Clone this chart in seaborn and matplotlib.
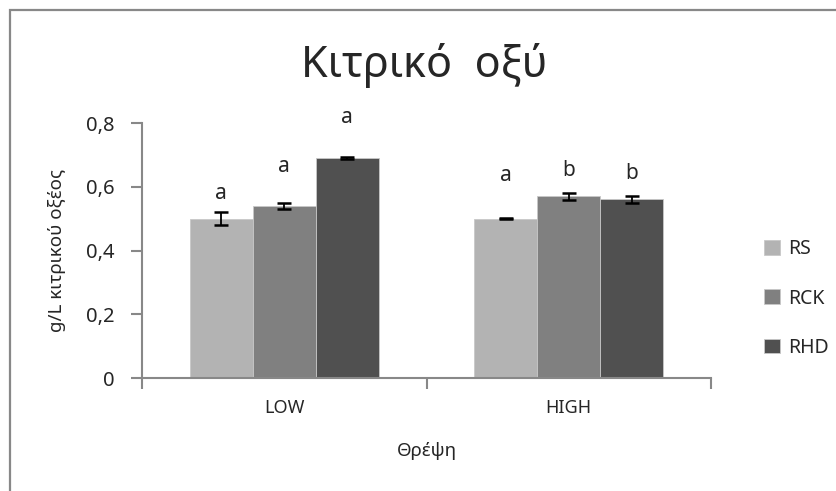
import pandas as pd
import numpy as np
import matplotlib
matplotlib.use("Agg")
import matplotlib.pyplot as plt
import seaborn as sns
from matplotlib.patches import Rectangle
from matplotlib.ticker import FuncFormatter, FixedLocator

# Data
groups = ["LOW", "HIGH"]
treatments = ["RS", "RCK", "RHD"]
rs_vals = [0.50, 0.50]
rck_vals = [0.54, 0.57]
rhd_vals = [0.69, 0.56]
rs_err = [0.02, 0.002]
rck_err = [0.01, 0.01]
rhd_err = [0.002, 0.01]
rs_letters = ["a", "a"]
rck_letters = ["a", "b"]
rhd_letters = ["a", "b"]
# label heights (data units) as placed in the original
rs_label_y = [0.580, 0.634]
rck_label_y = [0.662, 0.652]
rhd_label_y = [0.816, 0.643]

colors = ["#b3b3b3", "#808080", "#505050"]

df = pd.DataFrame({
    "Θρέψη": groups * 3,
    "treatment": [t for t in treatments for _ in groups],
    "value": rs_vals + rck_vals + rhd_vals,
})
errs = [rs_err, rck_err, rhd_err]
letters = [rs_letters, rck_letters, rhd_letters]
label_y = [rs_label_y, rck_label_y, rhd_label_y]

sns.set_style("white")
plt.rcParams["font.family"] = ["Noto Sans", "DejaVu Sans"]

fig = plt.figure(figsize=(8.36, 4.91), dpi=100)
ax = fig.add_axes([142 / 836, 1 - 378 / 491, 569 / 836, 255 / 491])

sns.barplot(data=df, x="Θρέψη", y="value", hue="treatment", hue_order=treatments,
            palette=colors, saturation=1, width=0.664, errorbar=None, ax=ax,
            edgecolor="#c8c8c8", linewidth=0.6)

for cont, e, lab, ly in zip(ax.containers, errs, letters, label_y):
    for bar, err, txt, yy in zip(cont, e, lab, ly):
        cx = bar.get_x() + bar.get_width() / 2
        ax.errorbar(cx, bar.get_height(), yerr=err, fmt="none", ecolor="black",
                    elinewidth=1.3, capsize=5, capthick=1.8, zorder=5)
        ax.text(cx, yy, txt, ha="center", va="center", fontsize=15)

ax.set_xlim(-0.5, 1.5)
ax.set_ylim(0, 0.8)
ax.set_yticks([0, 0.2, 0.4, 0.6, 0.8])
ax.yaxis.set_major_formatter(FuncFormatter(lambda v, p: "0" if v == 0 else f"{v:.1f}".replace(".", ",")))
ax.xaxis.set_minor_locator(FixedLocator([-0.5, 0.5, 1.5]))
ax.tick_params(axis="x", which="major", length=0, pad=15, labelsize=13)
ax.tick_params(axis="x", which="minor", length=8, width=1.5, color="#888888", direction="out")
ax.tick_params(axis="y", length=8, width=1.5, color="#888888", direction="out", labelsize=14.5, pad=12)
ax.tick_params(axis="x", which="minor", bottom=True)
ax.tick_params(axis="y", left=True)

for s in ["top", "right"]:
    ax.spines[s].set_visible(False)
for s in ["left", "bottom"]:
    ax.spines[s].set_color("#888888")
    ax.spines[s].set_linewidth(1.5)

ax.set_xlabel("Θρέψη", fontsize=13.5, labelpad=18)
ax.set_ylabel("g/L κιτρικού οξέος", fontsize=13.5, labelpad=14)
fig.text(424 / 836, 1 - 65 / 491, "Κιτρικό  οξύ", ha="center", va="center", fontsize=31)

handles, labs = ax.get_legend_handles_labels()
ax.legend_.remove()
fig.legend(handles, labs, loc="center left", bbox_to_anchor=(0.893, 0.392),
           frameon=False, fontsize=14, labelspacing=1.5, handlelength=0.8,
           handleheight=0.8, handletextpad=0.45)

# outer chart frame
fig.patches.append(Rectangle((10 / 836, -0.05), 1.2, 1 - 10 / 491 + 0.05,
                             transform=fig.transFigure, fill=False,
                             edgecolor="#888888", linewidth=1.6, zorder=0))

fig.savefig("out.png", dpi=100)
